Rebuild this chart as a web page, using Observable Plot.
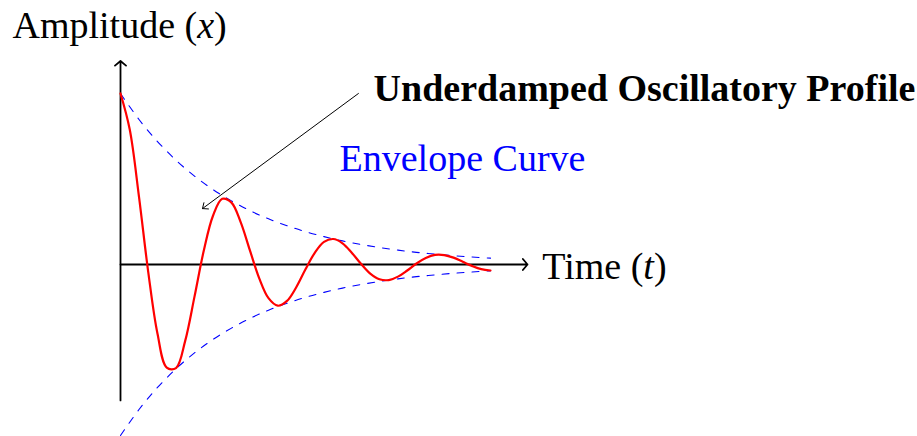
<!DOCTYPE html>
<html>
<head>
<meta charset="utf-8">
<script src="https://cdn.jsdelivr.net/npm/d3@7"></script>
<script src="https://cdn.jsdelivr.net/npm/@observablehq/plot@0.6"></script>
<style>
  html, body { margin: 0; padding: 0; background: #fff; }
</style>
</head>
<body>
<script>
// Time samples and displacement of the red underdamped curve
const times = [0,0.25,0.5,0.75,1,1.25,1.5,1.75,2,2.25,2.5,2.75,3,3.25,3.5,3.75,4,4.25,4.5,4.75,5,5.25,5.5,5.75,6,6.25,6.5,6.75,7,7.25,7.5,7.75,8,8.25,8.5,8.75,9,9.25,9.5,9.75,10];
const displacement = [1.000,0.789,0.396,-0.044,-0.405,-0.603,-0.606,-0.445,-0.188,0.080,0.285,0.384,0.362,0.246,0.081,-0.081,-0.197,-0.241,-0.213,-0.133,-0.028,0.068,0.132,0.149,0.124,0.069,0.004,-0.053,-0.086,-0.091,-0.071,-0.035,0.006,0.038,0.056,0.055,0.040,0.016,-0.008,-0.027,-0.035];

// Envelope curves (blue dashed)
const envTimes = [0,0.5,1,1.5,2,2.5,3,3.5,4,4.5,5,5.5,6,6.5,7,7.5,8,8.5,9,9.5,10];
const envUpper = [1,0.848,0.719,0.610,0.517,0.438,0.372,0.315,0.267,0.227,0.192,0.163,0.138,0.117,0.099,0.084,0.071,0.061,0.051,0.044,0.037];
const envLower = [-1,-0.848,-0.719,-0.610,-0.517,-0.438,-0.372,-0.315,-0.267,-0.227,-0.192,-0.163,-0.138,-0.117,-0.099,-0.084,-0.071,-0.061,-0.051,-0.044,-0.037];

// Axis extents (data units)
const axisX = [0, 11];
const axisY = [-0.795, 1.19];

// Labels
const labelTexts = ["Amplitude (x)", "Time (t)", "Underdamped Oscillatory Profile", "Envelope Curve"];
const labelT = [-2.92, 11.40, 6.84, 5.92];
const labelA = [1.327, -0.082, 0.959, 0.544];

// Annotation arrow (from title toward the second crest)
const annFrom = [6.43, 1.0];
const annTo = [2.216, 0.327];

const curve = times.map((t, i) => ({t, v: displacement[i]}));
const upper = envTimes.map((t, i) => ({t, v: envUpper[i]}));
const lower = envTimes.map((t, i) => ({t, v: envLower[i]}));
const axes = [
  {x1: axisX[0], y1: 0, x2: axisX[1], y2: 0},
  {x1: 0, y1: axisY[0], x2: 0, y2: axisY[1]}
];
const labels = labelTexts.map((text, i) => ({text, t: labelT[i], a: labelA[i]}));

const svg = Plot.plot({
  width: 917,
  height: 436,
  marginTop: 0, marginRight: 0, marginBottom: 0, marginLeft: 0,
  x: {domain: [0, 10], range: [120, 490], axis: null},
  y: {domain: [-1, 1], range: [435, 93], axis: null},
  style: {background: "#fff", overflow: "visible"},
  marks: [
    Plot.arrow(axes, {x1: "x1", y1: "y1", x2: "x2", y2: "y2", stroke: "#000", strokeWidth: 1.8, headLength: 6, headAngle: 100}),
    Plot.line(upper, {x: "t", y: "v", stroke: "#0000ff", strokeWidth: 1.1, strokeDasharray: "7,8", curve: "catmull-rom"}),
    Plot.line(lower, {x: "t", y: "v", stroke: "#0000ff", strokeWidth: 1.1, strokeDasharray: "7,8", curve: "catmull-rom"}),
    Plot.line(curve, {x: "t", y: "v", stroke: "#ff0000", strokeWidth: 2.2, curve: "catmull-rom"}),
    Plot.arrow([{x1: annFrom[0], y1: annFrom[1], x2: annTo[0], y2: annTo[1]}], {x1: "x1", y1: "y1", x2: "x2", y2: "y2", stroke: "#000", strokeWidth: 1, headLength: 9, headAngle: 80}),
    Plot.text(labels.filter((d, i) => i !== 2 && i !== 3), {x: "t", y: "a", text: "text", textAnchor: "start", lineAnchor: "bottom", fontSize: 38, fontFamily: "Liberation Serif", fill: "#000"}),
    Plot.text(labels.filter((d, i) => i === 2), {x: "t", y: "a", text: "text", textAnchor: "start", lineAnchor: "bottom", fontSize: 38, fontWeight: "bold", fontFamily: "Liberation Serif", fill: "#000"}),
    Plot.text(labels.filter((d, i) => i === 3), {x: "t", y: "a", text: "text", textAnchor: "start", lineAnchor: "bottom", fontSize: 38, fontFamily: "Liberation Serif", fill: "#0000ff"})
  ]
});

// Italicise the math variables inside parentheses
svg.querySelectorAll("text").forEach(el => {
  const m = el.textContent.match(/^(.*\()([a-z])(\).*)$/);
  if (m) {
    el.textContent = "";
    const ns = "http://www.w3.org/2000/svg";
    const a = document.createElementNS(ns, "tspan"); a.textContent = m[1];
    const b = document.createElementNS(ns, "tspan"); b.textContent = m[2]; b.setAttribute("font-style", "italic");
    const c = document.createElementNS(ns, "tspan"); c.textContent = m[3];
    el.append(a, b, c);
  }
});

document.body.appendChild(svg);
</script>
</body>
</html>
